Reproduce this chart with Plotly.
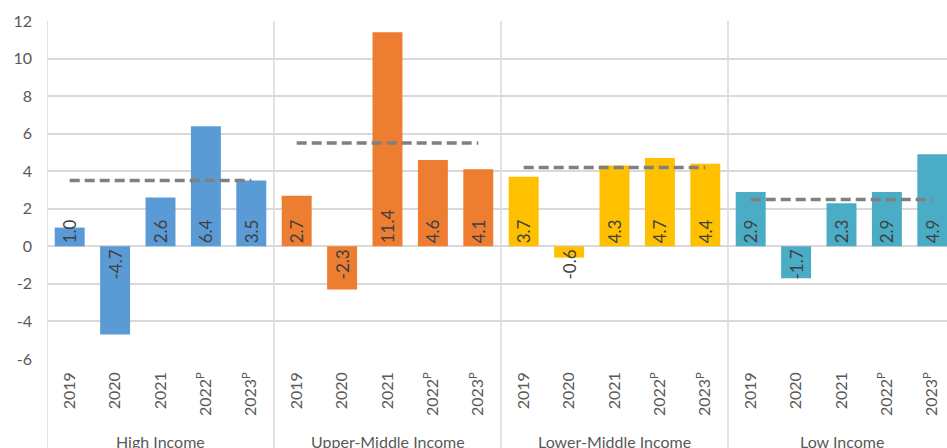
import plotly.graph_objects as go

groups = ["High Income", "Upper-Middle Income", "Lower-Middle Income", "Low Income"]
years = ["2019", "2020", "2021", "2022<sup>P</sup>", "2023<sup>P</sup>"]
high = [1.0, -4.7, 2.6, 6.4, 3.5]
upper_mid = [2.7, -2.3, 11.4, 4.6, 4.1]
lower_mid = [3.7, -0.6, 4.3, 4.7, 4.4]
low = [2.9, -1.7, 2.3, 2.9, 4.9]
benchmark = [3.5, 5.5, 4.2, 2.5]
colors = ["#5B9BD5", "#ED7D31", "#FFC000", "#4BACC6"]
y_ticks = [-6, -4, -2, 0, 2, 4, 6, 8, 10, 12]

series = [high, upper_mid, lower_mid, low]
FONT = "Lato"
n = len(years)

fig = go.Figure()
for g, vals in enumerate(series):
    xs = [g * n + i for i in range(n)]
    fig.add_trace(go.Bar(
        x=xs, y=vals, width=0.66,
        marker=dict(color=colors[g], line=dict(width=0)),
        text=[f"{v:.1f}" for v in vals],
        textposition="inside", insidetextanchor="start",
        textangle=-90, constraintext="none",
        textfont=dict(family=FONT, size=17, color="#404040"),
        showlegend=False, hoverinfo="skip",
    ))
for g, b in enumerate(benchmark):
    fig.add_trace(go.Scatter(
        x=[g * n, g * n + n - 1], y=[b, b], mode="lines",
        line=dict(color="#808080", width=3.5, dash="10px,5px"),
        showlegend=False, hoverinfo="skip",
    ))

tickvals = [g * n + i for g in range(len(groups)) for i in range(n)]
ticktext = [years[i] for g in range(len(groups)) for i in range(n)]

fig.update_layout(
    width=947, height=448,
    margin=dict(l=47, r=0, t=21, b=89, autoexpand=False),
    plot_bgcolor="white", paper_bgcolor="white",
    barmode="overlay",
    font=dict(family=FONT, size=16, color="#595959"),
    xaxis=dict(
        range=[-0.5, -0.5 + 900 / 45.4], automargin=False,
        tickvals=tickvals, ticktext=ticktext, tickangle=-90,
        showgrid=False, zeroline=False, showline=False,
        ticks="", ticklabelstandoff=9,
        tickfont=dict(family=FONT, size=16, color="#595959"),
    ),
    yaxis=dict(
        range=[-6, 12], automargin=False,
        tickvals=y_ticks, ticktext=[str(t) for t in y_ticks],
        showgrid=True, gridcolor="#D9D9D9", gridwidth=1.5,
        zeroline=True, zerolinecolor="#D9D9D9", zerolinewidth=1.5,
        showline=False, ticks="", ticklabelstandoff=14,
        tickfont=dict(family=FONT, size=16, color="#595959"),
    ),
)

# group separators and left border extending through label area
for xpos in [-0.5] + [g * n - 0.5 for g in range(1, len(groups))]:
    fig.add_shape(type="line", xref="x", yref="paper", x0=xpos, x1=xpos,
                  y0=-89 / 338, y1=1, line=dict(color="#D9D9D9", width=1.5),
                  layer="below")

for g, name in enumerate(groups):
    fig.add_annotation(x=g * n + (n - 1) / 2, y=0, xref="x", yref="paper",
                       text=name, showarrow=False, yanchor="middle", yshift=-82,
                       font=dict(family=FONT, size=16, color="#595959"))

fig.write_html(
    "out.html",
    config={"displayModeBar": False},
    post_script="document.body.style.margin='0';document.body.style.overflow='hidden';",
)
